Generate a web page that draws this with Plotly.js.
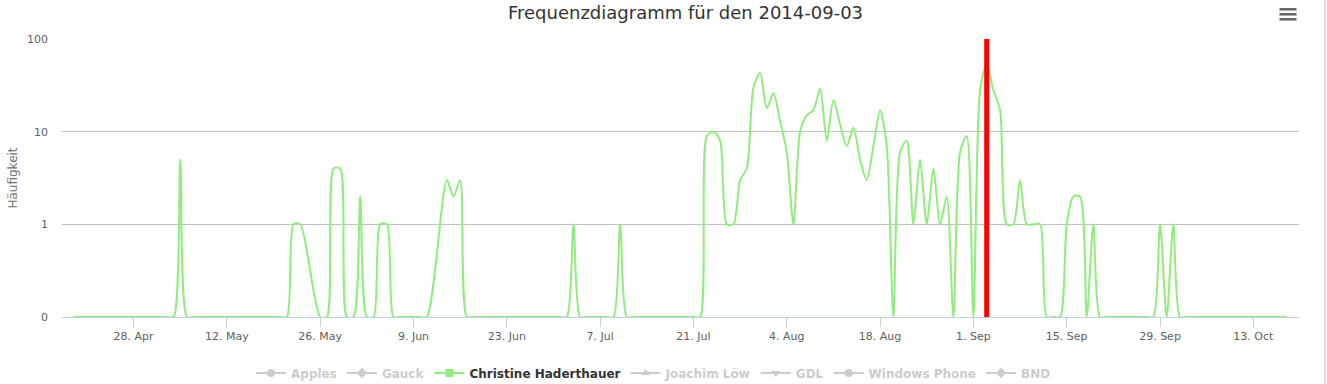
<!DOCTYPE html>
<html>
<head>
<meta charset="utf-8">
<script src="https://cdn.plot.ly/plotly-3.0.1.min.js"></script>
<style>
  html, body { margin: 0; padding: 0; background: #ffffff; }
  #chart { width: 1327px; height: 384px; }
</style>
</head>
<body>
<div id="chart"></div>
<script>
// ---------------- data ----------------
const chartTitle = 'Frequenzdiagramm für den 2014-09-03';
const yAxisTitle = 'Häufigkeit';
const seriesNames = ['Apples', 'Gauck', 'Christine Haderthauer', 'Joachim Löw', 'GDL', 'Windows Phone', 'BND'];
const seriesSymbols = ['circle', 'diamond', 'square', 'triangle-up', 'triangle-down', 'circle', 'diamond'];
const activeSeries = 'Christine Haderthauer';
const firstDay = '2014-04-19';          // first daily value
const markedDate = '2014-09-03';        // red plot line
// daily counts from 2014-04-19 to 2014-10-18 (null = no entry that day)
const haderthauerCounts = [
  0, 0, 0, 0, 0, 0, 0,
  0, 0, 0, 0, 0, 0, 0,
  0, 0, 5, 0, 0, 0, 0,
  0, 0, 0, 0, 0, 0, 0,
  0, 0, 0, 0, 0, 1, 1,
  null, null, 0, 0, 4, 4, 0,
  0, 2, 0, 0, 1, 1, 0,
  0, 0, 0, 0, 0, null, null,
  3, 2, 3, 0, 0, 0, 0,
  0, 0, 0, 0, 0, 0, 0,
  0, 0, 0, 0, 0, 1, 0,
  0, 0, 0, 0, 0, 1, 0,
  0, 0, 0, 0, 0, 0, 0,
  0, 0, 0, 0, 9, 10, 8,
  1, 1, 3, 4, 30, 43, 18,
  26, 13, 6, 1, 10, 15, 17,
  29, 8, 22, 12, 7, 11, 5,
  3, 7, 17, 7, 0, 6, 8,
  1, 5, 1, 4, 1, 2, 0,
  6, 9, 0, 28, 54, 28, 17,
  1, 1, 3, 1, 1, 1, 0,
  0, 0, 1, 2, 2, 0, 1,
  0, 0, 0, 0, 0, 0, 0,
  0, 0, 1, 0, 1, 0, 0,
  0, 0, 0, 0, 0, 0, 0,
  0, 0, 0, 0, 0, 0, 0,
  0
];
const yTickValues = [0, 1, 10, 100];
const yTickLabels = ['0', '1', '10', '100'];
const xTickStart = '2014-04-28';
const xRange = ['2014-04-17 06:15', '2014-10-19 20:30'];

// ---------------- styling ----------------
const activeColor = '#90ed7d';
const hiddenColor = '#cccccc';
const zeroLevel = 0.1;   // position of "0" on the logarithmic axis
const DAY = 86400000;
const legendOnlyX = ['2000-01-01'];   // outside the visible range: legend entry only
const legendOnlyY = [1];

const plotted = haderthauerCounts.map(v => v === null ? null : (v === 0 ? zeroLevel : v));

const traces = [{
  type: 'scatter',
  mode: 'lines',
  x0: firstDay,
  dx: DAY,
  y: plotted,
  connectgaps: true,
  line: { color: activeColor, width: 2, shape: 'spline', smoothing: 0.75 },
  showlegend: false,
  hoverinfo: 'skip'
}];

seriesNames.forEach((name, i) => {
  const active = name === activeSeries;
  const col = active ? activeColor : hiddenColor;
  traces.push({
    type: 'scatter',
    mode: 'lines+markers',
    x: legendOnlyX, y: legendOnlyY,
    cliponaxis: true,
    name: active ? '<span style="color:#333333">' + name + '</span>'
                 : '<span style="color:' + hiddenColor + '">' + name + '</span>',
    line: { color: col, width: 2 },
    marker: { symbol: seriesSymbols[i], size: 8, color: col },
    showlegend: true,
    hoverinfo: 'skip'
  });
});

const shapes = [
  { type: 'line', xref: 'x', yref: 'paper', x0: markedDate, x1: markedDate, y0: 0, y1: 1,
    line: { color: '#ff0000', width: 5 }, layer: 'above' }
];
// export menu icon
[29.7, 24.7, 19.7].forEach(off => {
  shapes.push({ type: 'line', xref: 'paper', xsizemode: 'pixel', xanchor: 1, x0: -19.5, x1: -2.5,
    yref: 'paper', ysizemode: 'pixel', yanchor: 1, y0: off, y1: off,
    line: { color: '#666666', width: 2.5 } });
});
// right frame edge
shapes.push({ type: 'line', xref: 'paper', xsizemode: 'pixel', xanchor: 1, x0: 26, x1: 26,
  yref: 'paper', ysizemode: 'pixel', yanchor: 0, y0: -70, y1: 330,
  line: { color: '#dddddd', width: 2 } });

const layout = {
  width: 1327, height: 384,
  margin: { l: 62, r: 28, t: 39, b: 67 },
  paper_bgcolor: '#ffffff', plot_bgcolor: '#ffffff',
  font: { family: 'DejaVu Sans, Verdana, sans-serif', color: '#606060', size: 11 },
  title: { text: chartTitle, xref: 'container', x: 0.5166, xanchor: 'center',
           yref: 'container', y: 1 - 13 / 384, yanchor: 'middle',
           font: { size: 18, color: '#333333', family: 'DejaVu Sans, Verdana, sans-serif' } },
  xaxis: {
    type: 'date', range: xRange,
    tickmode: 'linear', tick0: xTickStart, dtick: 14 * DAY, tickformat: '%-d. %b',
    showgrid: false, zeroline: false,
    showline: true, linecolor: '#C0D0E0', linewidth: 1,
    ticks: 'outside', ticklen: 9, tickcolor: '#C0D0E0', tickwidth: 1,
    tickfont: { size: 11, color: '#606060' }
  },
  yaxis: {
    type: 'log', range: [-1, 2],
    tickmode: 'array', tickvals: yTickValues.map(v => v === 0 ? zeroLevel : v), ticktext: yTickLabels,
    showgrid: true, gridcolor: '#C0C0C0', gridwidth: 1,
    zeroline: false, showline: false, ticks: '',
    ticklabelstandoff: 13,
    tickfont: { size: 11, color: '#606060' },
    title: { text: yAxisTitle, standoff: 6, font: { size: 12, color: '#707070' } }
  },
  legend: {
    orientation: 'h', xref: 'container', x: 653.5 / 1327, xanchor: 'center',
    yref: 'container', y: 11 / 384, yanchor: 'middle',
    font: { size: 12, color: '#333333', weight: 'bold', family: 'DejaVu Sans, Verdana, sans-serif' },
    itemclick: false, itemdoubleclick: false, traceorder: 'normal'
  },
  shapes: shapes,
  showlegend: true
};

Plotly.newPlot('chart', traces, layout, { displayModeBar: false, staticPlot: true });
</script>
</body>
</html>
